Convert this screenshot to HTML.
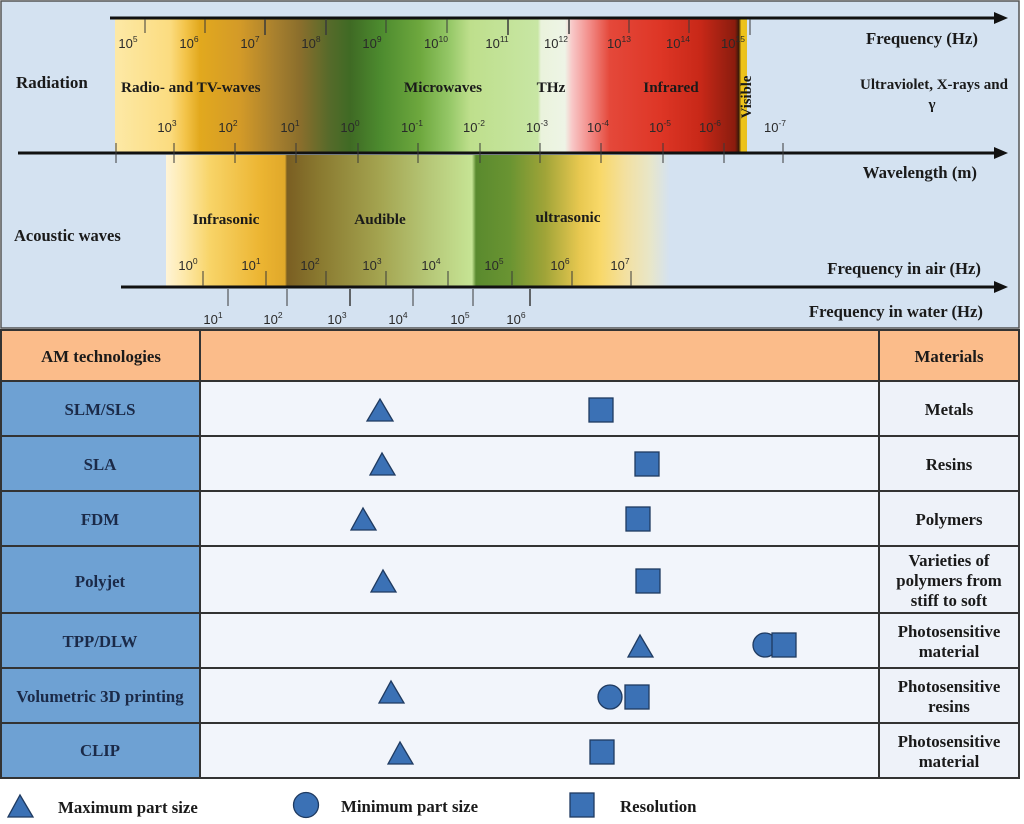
<!DOCTYPE html>
<html><head><meta charset="utf-8"><style>
html,body{margin:0;padding:0;background:#fff;}
svg{display:block;}
.b{font-family:"Liberation Serif",serif;font-weight:bold;fill:#1a1a1a;}
.t{font-family:"Liberation Sans",sans-serif;font-size:13px;fill:#2a2a2a;}
.nv{fill:#1b2a48;}
</style></head><body>
<svg width="1024" height="824" viewBox="0 0 1024 824" xmlns="http://www.w3.org/2000/svg">
<defs>
<linearGradient id="rad" gradientUnits="userSpaceOnUse" x1="115" y1="0" x2="747" y2="0">
<stop offset="0" stop-color="#fde9a6"/>
<stop offset="0.087" stop-color="#fbdc80"/>
<stop offset="0.111" stop-color="#f3c44a"/>
<stop offset="0.134" stop-color="#e2a91e"/>
<stop offset="0.198" stop-color="#d39a28"/>
<stop offset="0.253" stop-color="#a8802e"/>
<stop offset="0.293" stop-color="#8a6e2c"/>
<stop offset="0.340" stop-color="#556a2a"/>
<stop offset="0.372" stop-color="#3f6a24"/>
<stop offset="0.419" stop-color="#4c8a2e"/>
<stop offset="0.483" stop-color="#6ea83e"/>
<stop offset="0.530" stop-color="#96c868"/>
<stop offset="0.562" stop-color="#bedf8c"/>
<stop offset="0.669" stop-color="#c8e6a4"/>
<stop offset="0.674" stop-color="#eaf3dc"/>
<stop offset="0.712" stop-color="#eef4e6"/>
<stop offset="0.723" stop-color="#f8c8c8"/>
<stop offset="0.752" stop-color="#f28a86"/>
<stop offset="0.783" stop-color="#e4483a"/>
<stop offset="0.862" stop-color="#de3626"/>
<stop offset="0.926" stop-color="#c82818"/>
<stop offset="0.981" stop-color="#8a1c0e"/>
<stop offset="0.987" stop-color="#3a1a08"/>
<stop offset="0.991" stop-color="#f0c418"/>
<stop offset="1" stop-color="#e8c020"/>
</linearGradient>
<linearGradient id="ac" gradientUnits="userSpaceOnUse" x1="166" y1="0" x2="670" y2="0">
<stop offset="0" stop-color="#fff4d6"/>
<stop offset="0.038" stop-color="#fde8a8"/>
<stop offset="0.087" stop-color="#f8d468"/>
<stop offset="0.187" stop-color="#ecb532"/>
<stop offset="0.236" stop-color="#e0a82a"/>
<stop offset="0.240" stop-color="#7a5e22"/>
<stop offset="0.306" stop-color="#8a7a30"/>
<stop offset="0.425" stop-color="#a4a450"/>
<stop offset="0.524" stop-color="#b6c878"/>
<stop offset="0.607" stop-color="#c6e494"/>
<stop offset="0.615" stop-color="#5a8a2e"/>
<stop offset="0.683" stop-color="#6a9432"/>
<stop offset="0.752" stop-color="#a0a438"/>
<stop offset="0.821" stop-color="#e8c850"/>
<stop offset="0.861" stop-color="#f8d868"/>
<stop offset="0.911" stop-color="#f3e0a0"/>
<stop offset="0.960" stop-color="#e8e6c8"/>
<stop offset="1" stop-color="#d4e2f1"/>
</linearGradient>
</defs>

<!-- top panel -->
<rect x="1" y="1" width="1018" height="327" fill="#d4e2f1" stroke="#555" stroke-width="1.5"/>
<rect x="115" y="18" width="632" height="135" fill="url(#rad)"/>
<rect x="166" y="155" width="504" height="132" fill="url(#ac)"/>

<!-- frequency axis -->
<line x1="110" y1="18" x2="996" y2="18" stroke="#111" stroke-width="3"/>
<polygon points="994,12 1008,18 994,24" fill="#111"/>
<g stroke="#3a3a3a" stroke-width="1">
<line x1="145" y1="19" x2="145" y2="33"/><line x1="205" y1="19" x2="205" y2="33"/>
<line x1="265" y1="19" x2="265" y2="35" stroke-width="1.5"/><line x1="326" y1="19" x2="326" y2="35" stroke-width="1.5"/>
<line x1="386" y1="19" x2="386" y2="33"/><line x1="447" y1="19" x2="447" y2="33"/>
<line x1="508" y1="19" x2="508" y2="35" stroke-width="1.5"/><line x1="569" y1="19" x2="569" y2="34" stroke-width="1.5"/>
<line x1="629" y1="19" x2="629" y2="33"/><line x1="689" y1="19" x2="689" y2="33"/>
<line x1="750" y1="19" x2="750" y2="35"/>
</g>
<g class="t" text-anchor="middle">
<text x="128" y="48">10<tspan dy="-6" font-size="8.5">5</tspan></text>
<text x="189" y="48">10<tspan dy="-6" font-size="8.5">6</tspan></text>
<text x="250" y="48">10<tspan dy="-6" font-size="8.5">7</tspan></text>
<text x="311" y="48">10<tspan dy="-6" font-size="8.5">8</tspan></text>
<text x="372" y="48">10<tspan dy="-6" font-size="8.5">9</tspan></text>
<text x="436" y="48">10<tspan dy="-6" font-size="8.5">10</tspan></text>
<text x="497" y="48">10<tspan dy="-6" font-size="8.5">11</tspan></text>
<text x="556" y="48">10<tspan dy="-6" font-size="8.5">12</tspan></text>
<text x="619" y="48">10<tspan dy="-6" font-size="8.5">13</tspan></text>
<text x="678" y="48">10<tspan dy="-6" font-size="8.5">14</tspan></text>
<text x="733" y="48">10<tspan dy="-6" font-size="8.5">15</tspan></text>
</g>

<!-- wavelength axis -->
<line x1="18" y1="153" x2="996" y2="153" stroke="#111" stroke-width="3"/>
<polygon points="994,147 1008,153 994,159" fill="#111"/>
<g stroke="#3a3a3a" stroke-width="1">
<line x1="116" y1="143" x2="116" y2="163"/><line x1="174" y1="143" x2="174" y2="163"/>
<line x1="235" y1="143" x2="235" y2="163"/><line x1="296" y1="143" x2="296" y2="163"/>
<line x1="358" y1="143" x2="358" y2="163"/><line x1="418" y1="143" x2="418" y2="163"/>
<line x1="480" y1="143" x2="480" y2="163"/><line x1="540" y1="143" x2="540" y2="163"/>
<line x1="601" y1="143" x2="601" y2="163"/><line x1="663" y1="143" x2="663" y2="163"/>
<line x1="724" y1="143" x2="724" y2="163"/><line x1="783" y1="143" x2="783" y2="163"/>
</g>
<g class="t" text-anchor="middle">
<text x="167" y="132">10<tspan dy="-6" font-size="8.5">3</tspan></text>
<text x="228" y="132">10<tspan dy="-6" font-size="8.5">2</tspan></text>
<text x="290" y="132">10<tspan dy="-6" font-size="8.5">1</tspan></text>
<text x="350" y="132">10<tspan dy="-6" font-size="8.5">0</tspan></text>
<text x="412" y="132">10<tspan dy="-6" font-size="8.5">-1</tspan></text>
<text x="474" y="132">10<tspan dy="-6" font-size="8.5">-2</tspan></text>
<text x="537" y="132">10<tspan dy="-6" font-size="8.5">-3</tspan></text>
<text x="598" y="132">10<tspan dy="-6" font-size="8.5">-4</tspan></text>
<text x="660" y="132">10<tspan dy="-6" font-size="8.5">-5</tspan></text>
<text x="710" y="132">10<tspan dy="-6" font-size="8.5">-6</tspan></text>
<text x="775" y="132">10<tspan dy="-6" font-size="8.5">-7</tspan></text>
</g>

<!-- radiation labels -->
<text class="b" x="16" y="88" font-size="17">Radiation</text>
<text class="b" x="121" y="92" font-size="15.2">Radio- and TV-waves</text>
<text class="b" x="443" y="92" font-size="15.2" text-anchor="middle">Microwaves</text>
<text class="b" x="551" y="92" font-size="15.2" text-anchor="middle">THz</text>
<text class="b" x="671" y="92" font-size="15.2" text-anchor="middle">Infrared</text>
<text class="b" font-size="14.7" text-anchor="middle" transform="translate(751,97) rotate(-90)">Visible</text>
<text class="b" x="978" y="44" font-size="16.8" text-anchor="end">Frequency (Hz)</text>
<text class="b" x="934" y="89" font-size="15" text-anchor="middle">Ultraviolet, X-rays and</text>
<text class="b" x="932" y="109" font-size="15" text-anchor="middle">γ</text>
<text class="b" x="977" y="178" font-size="16.8" text-anchor="end">Wavelength (m)</text>

<!-- acoustic -->
<line x1="121" y1="287" x2="996" y2="287" stroke="#111" stroke-width="3"/>
<polygon points="994,281 1008,287 994,293" fill="#111"/>
<g stroke="#3a3a3a" stroke-width="1">
<line x1="203" y1="271" x2="203" y2="286"/><line x1="266" y1="271" x2="266" y2="286"/>
<line x1="326" y1="271" x2="326" y2="286"/><line x1="386" y1="271" x2="386" y2="286"/>
<line x1="448" y1="271" x2="448" y2="286"/><line x1="512" y1="271" x2="512" y2="286"/>
<line x1="572" y1="271" x2="572" y2="286"/><line x1="631" y1="271" x2="631" y2="286"/>
<line x1="228" y1="289" x2="228" y2="306"/><line x1="287" y1="289" x2="287" y2="306"/>
<line x1="350" y1="289" x2="350" y2="306" stroke-width="1.5"/><line x1="413" y1="289" x2="413" y2="306"/>
<line x1="473" y1="289" x2="473" y2="306"/><line x1="530" y1="289" x2="530" y2="306" stroke-width="1.5"/>
</g>
<g class="t" text-anchor="middle">
<text x="188" y="270">10<tspan dy="-6" font-size="8.5">0</tspan></text>
<text x="251" y="270">10<tspan dy="-6" font-size="8.5">1</tspan></text>
<text x="310" y="270">10<tspan dy="-6" font-size="8.5">2</tspan></text>
<text x="372" y="270">10<tspan dy="-6" font-size="8.5">3</tspan></text>
<text x="431" y="270">10<tspan dy="-6" font-size="8.5">4</tspan></text>
<text x="494" y="270">10<tspan dy="-6" font-size="8.5">5</tspan></text>
<text x="560" y="270">10<tspan dy="-6" font-size="8.5">6</tspan></text>
<text x="620" y="270">10<tspan dy="-6" font-size="8.5">7</tspan></text>
<text x="213" y="324">10<tspan dy="-6" font-size="8.5">1</tspan></text>
<text x="273" y="324">10<tspan dy="-6" font-size="8.5">2</tspan></text>
<text x="337" y="324">10<tspan dy="-6" font-size="8.5">3</tspan></text>
<text x="398" y="324">10<tspan dy="-6" font-size="8.5">4</tspan></text>
<text x="460" y="324">10<tspan dy="-6" font-size="8.5">5</tspan></text>
<text x="516" y="324">10<tspan dy="-6" font-size="8.5">6</tspan></text>
</g>
<text class="b" x="14" y="241" font-size="16.5">Acoustic waves</text>
<text class="b" x="226" y="224" font-size="15.2" text-anchor="middle">Infrasonic</text>
<text class="b" x="380" y="224" font-size="15.2" text-anchor="middle">Audible</text>
<text class="b" x="568" y="222" font-size="15.2" text-anchor="middle">ultrasonic</text>
<text class="b" x="981" y="274" font-size="16.7" text-anchor="end">Frequency in air (Hz)</text>
<text class="b" x="983" y="317" font-size="16.7" text-anchor="end">Frequency in water (Hz)</text>

<!-- table -->
<rect x="1" y="330" width="1018" height="51" fill="#fbbc8a"/>
<rect x="1" y="381" width="199" height="397" fill="#6ea1d3"/>
<rect x="200" y="381" width="679" height="397" fill="#f2f5fb"/>
<rect x="879" y="381" width="140" height="397" fill="#eef2f9"/>
<g stroke="#333" stroke-width="2" fill="none">
<rect x="1" y="330" width="1018" height="448"/>
<line x1="200" y1="330" x2="200" y2="778"/>
<line x1="879" y1="330" x2="879" y2="778"/>
<line x1="1" y1="381" x2="1019" y2="381"/>
<line x1="1" y1="436" x2="1019" y2="436"/>
<line x1="1" y1="491" x2="1019" y2="491"/>
<line x1="1" y1="546" x2="1019" y2="546"/>
<line x1="1" y1="613" x2="1019" y2="613"/>
<line x1="1" y1="668" x2="1019" y2="668"/>
<line x1="1" y1="723" x2="1019" y2="723"/>
</g>
<g class="b" font-size="16.8" text-anchor="middle">
<text x="101" y="362">AM technologies</text>
<text x="949" y="362">Materials</text>
<text class="b nv" x="100" y="415">SLM/SLS</text>
<text class="b nv" x="100" y="470">SLA</text>
<text class="b nv" x="100" y="525">FDM</text>
<text class="b nv" x="100" y="587">Polyjet</text>
<text class="b nv" x="100" y="647">TPP/DLW</text>
<text class="b nv" x="100" y="702">Volumetric 3D printing</text>
<text class="b nv" x="100" y="756">CLIP</text>
<text x="949" y="415">Metals</text>
<text x="949" y="470">Resins</text>
<text x="949" y="525">Polymers</text>
<text x="949" y="566">Varieties of</text>
<text x="949" y="586">polymers from</text>
<text x="949" y="606">stiff to soft</text>
<text x="949" y="637">Photosensitive</text>
<text x="949" y="657">material</text>
<text x="949" y="692">Photosensitive</text>
<text x="949" y="712">resins</text>
<text x="949" y="747">Photosensitive</text>
<text x="949" y="767">material</text>
</g>

<!-- markers -->
<g fill="#3b71b5" stroke="#1f3a60" stroke-width="1.3">
<polygon points="367,421 393,421 380,399"/>
<rect x="589" y="398" width="24" height="24"/>
<polygon points="370,475 395,475 382,453"/>
<rect x="635" y="452" width="24" height="24"/>
<polygon points="351,530 376,530 363,508"/>
<rect x="626" y="507" width="24" height="24"/>
<polygon points="371,592 396,592 383,570"/>
<rect x="636" y="569" width="24" height="24"/>
<polygon points="628,657 653,657 640,635"/>
<circle cx="765" cy="645" r="12"/>
<rect x="772" y="633" width="24" height="24"/>
<polygon points="379,703 404,703 391,681"/>
<circle cx="610" cy="697" r="12"/>
<rect x="625" y="685" width="24" height="24"/>
<polygon points="388,764 413,764 400,742"/>
<rect x="590" y="740" width="24" height="24"/>
<polygon points="8,817 33,817 20,795"/>
<circle cx="306" cy="805" r="12.5"/>
<rect x="570" y="793" width="24" height="24"/>
</g>
<g class="b" font-size="16.8">
<text x="58" y="813">Maximum part size</text>
<text x="341" y="812">Minimum part size</text>
<text x="620" y="812">Resolution</text>
</g>
</svg>
</body></html>
